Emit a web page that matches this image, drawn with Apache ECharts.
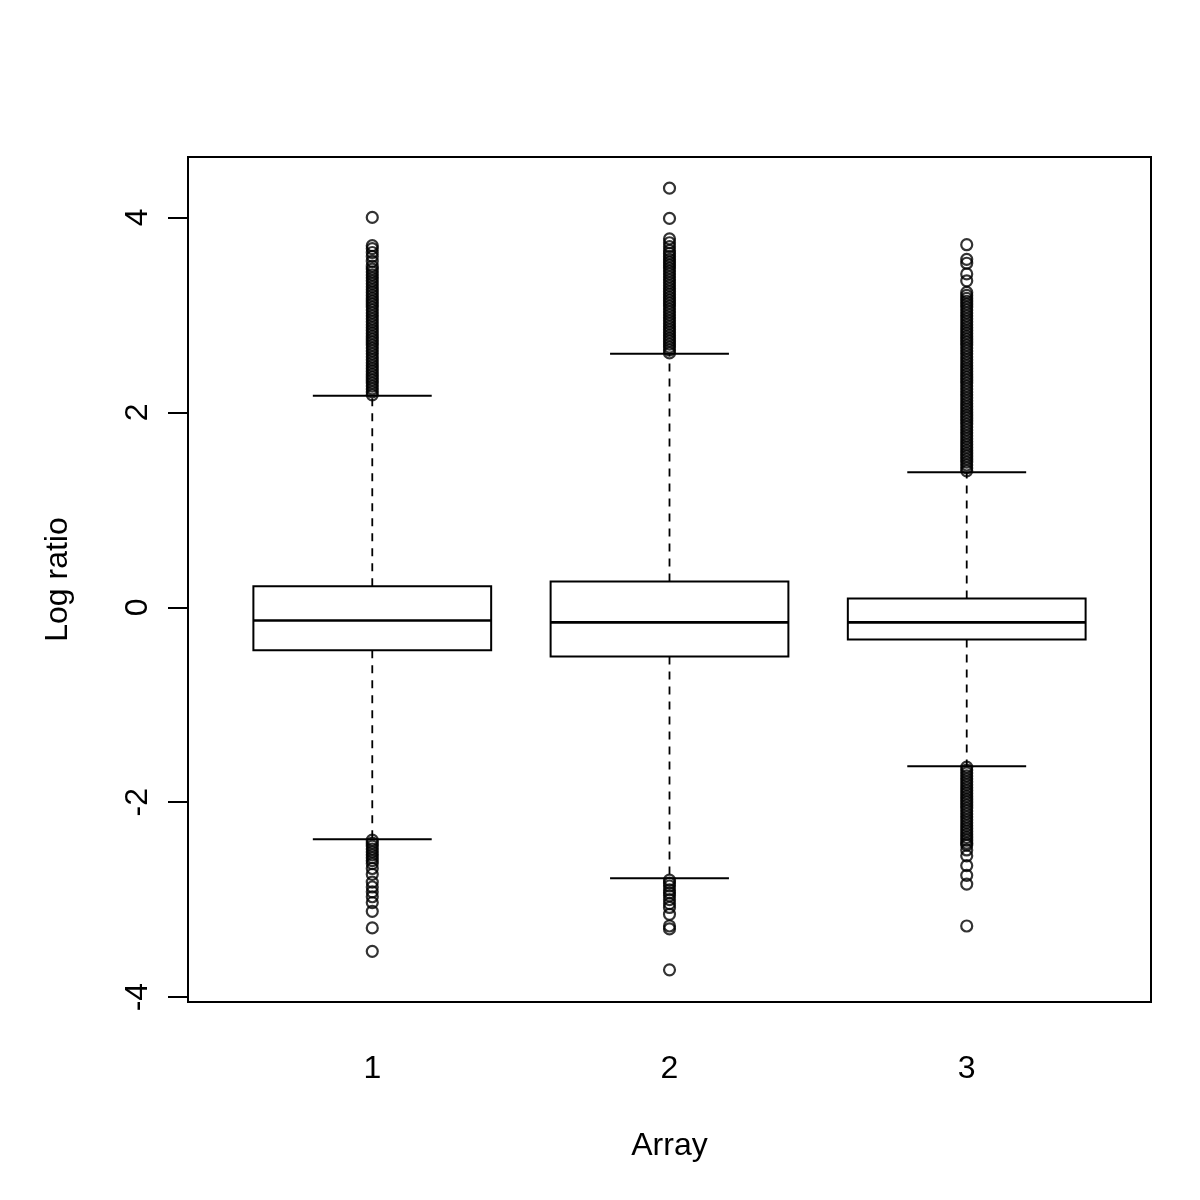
<!DOCTYPE html>
<html>
<head>
<meta charset="utf-8">
<script src="https://cdn.jsdelivr.net/npm/echarts@6/dist/echarts.min.js"></script>
<style>html,body{margin:0;padding:0;background:#fff;}#c{width:1200px;height:1200px;}</style>
</head>
<body>
<div id="c"></div>
<script>
const categories = ['1', '2', '3'];
const yTicks = [-4, -2, 0, 2, 4];
// [whiskerLow, Q1, median, Q3, whiskerHigh]
const box1 = [-2.38, -0.44, -0.135, 0.215, 2.17];
const box2 = [-2.78, -0.505, -0.155, 0.265, 2.6];
const box3 = [-1.63, -0.33, -0.155, 0.09, 1.385];

const out1Hi = [2.18,2.21,2.24,2.27,2.3,2.33,2.36,2.39,2.42,2.45,2.48,2.51,2.54,2.57,2.6,2.63,2.66,2.69,2.72,2.75,2.78,2.81,2.84,2.87,2.9,2.93,2.96,2.99,3.02,3.05,3.08,3.11,3.14,3.17,3.2,3.23,3.26,3.29,3.32,3.35,3.38,3.41,3.44,3.47,3.5,3.55,3.6,3.64,3.68,3.71,4.0];
const out1Lo = [-2.39,-2.42,-2.45,-2.48,-2.51,-2.54,-2.57,-2.6,-2.63,-2.68,-2.74,-2.82,-2.87,-2.92,-2.97,-3.03,-3.12,-3.29,-3.53];
const out2Hi = [2.61,2.64,2.67,2.7,2.73,2.76,2.79,2.82,2.85,2.88,2.91,2.94,2.97,3.0,3.03,3.06,3.09,3.12,3.15,3.18,3.21,3.24,3.27,3.3,3.33,3.36,3.39,3.42,3.45,3.48,3.51,3.54,3.57,3.6,3.63,3.66,3.7,3.74,3.78,3.99,4.3];
const out2Lo = [-2.8,-2.83,-2.86,-2.9,-2.93,-2.96,-3.0,-3.04,-3.08,-3.15,-3.27,-3.3,-3.72];
const out3Hi = [1.4,1.43,1.46,1.49,1.52,1.55,1.58,1.61,1.64,1.67,1.7,1.73,1.76,1.79,1.82,1.85,1.88,1.91,1.94,1.97,2.0,2.03,2.06,2.09,2.12,2.15,2.18,2.21,2.24,2.27,2.3,2.33,2.36,2.39,2.42,2.45,2.48,2.51,2.54,2.57,2.6,2.63,2.66,2.69,2.72,2.75,2.78,2.81,2.84,2.87,2.9,2.93,2.96,2.99,3.02,3.05,3.08,3.11,3.14,3.17,3.2,3.23,3.35,3.42,3.53,3.57,3.72];
const out3Lo = [-1.64,-1.67,-1.7,-1.73,-1.76,-1.79,-1.82,-1.85,-1.88,-1.91,-1.94,-1.97,-2.0,-2.03,-2.06,-2.09,-2.12,-2.15,-2.18,-2.21,-2.24,-2.27,-2.3,-2.33,-2.36,-2.39,-2.42,-2.44,-2.49,-2.55,-2.65,-2.75,-2.84,-3.27];

const boxes = [box1, box2, box3];
const outliers = [out1Hi.concat(out1Lo), out2Hi.concat(out2Lo), out3Hi.concat(out3Lo)];

const boxData = boxes.map((b, i) => [i + 1].concat(b));
const outData = [];
outliers.forEach((arr, i) => arr.forEach(v => outData.push([i + 1, v])));

const FONT = "'Liberation Sans', Arial, Helvetica, sans-serif";
const chart = echarts.init(document.getElementById('c'), null, {renderer: 'canvas'});

function renderBox(params, api) {
  const x = api.value(0);
  const lo = api.value(1), q1 = api.value(2), med = api.value(3), q3 = api.value(4), hi = api.value(5);
  const halfBox = 0.4, halfCap = 0.2;
  const p = (xx, yy) => api.coord([xx, yy]);
  const pLoL = p(x - halfCap, lo), pLoR = p(x + halfCap, lo);
  const pHiL = p(x - halfCap, hi), pHiR = p(x + halfCap, hi);
  const bTL = p(x - halfBox, q3), bBR = p(x + halfBox, q1);
  const mL = p(x - halfBox, med), mR = p(x + halfBox, med);
  const c = p(x, 0);
  const pq1 = p(x, q1), pq3 = p(x, q3), plo = p(x, lo), phi = p(x, hi);
  const blk = '#000';
  return {
    type: 'group',
    children: [
      {type: 'line', shape: {x1: c[0], y1: pq3[1], x2: c[0], y2: phi[1]}, style: {stroke: blk, lineWidth: 1.8, lineDash: [8, 7]}},
      {type: 'line', shape: {x1: c[0], y1: pq1[1], x2: c[0], y2: plo[1]}, style: {stroke: blk, lineWidth: 1.8, lineDash: [8, 7]}},
      {type: 'line', shape: {x1: pHiL[0], y1: pHiL[1], x2: pHiR[0], y2: pHiR[1]}, style: {stroke: blk, lineWidth: 2}},
      {type: 'line', shape: {x1: pLoL[0], y1: pLoL[1], x2: pLoR[0], y2: pLoR[1]}, style: {stroke: blk, lineWidth: 2}},
      {type: 'rect', shape: {x: bTL[0], y: bTL[1], width: bBR[0] - bTL[0], height: bBR[1] - bTL[1]}, style: {fill: '#fff', stroke: blk, lineWidth: 2}},
      {type: 'line', shape: {x1: mL[0], y1: mL[1], x2: mR[0], y2: mR[1]}, style: {stroke: blk, lineWidth: 2.6}}
    ]
  };
}

chart.setOption({
  animation: false,
  backgroundColor: '#fff',
  grid: {left: 188, right: 49, top: 157, bottom: 198, show: true, borderColor: '#000', borderWidth: 2, backgroundColor: 'transparent'},
  xAxis: {
    type: 'value', min: 0.38, max: 3.62,
    name: 'Array', nameLocation: 'middle', nameGap: 128,
    nameTextStyle: {fontFamily: FONT, fontSize: 32, color: '#000'},
    axisLine: {show: false},
    splitLine: {show: false},
    axisTick: {show: true, inside: false, length: 20, customValues: [1, 2, 3], lineStyle: {color: '#000', width: 2}},
    axisLabel: {customValues: [1, 2, 3], formatter: v => categories[Math.round(v) - 1], fontFamily: FONT, fontSize: 32, color: '#000', margin: 51}
  },
  yAxis: {
    type: 'value', min: -4.05, max: 4.62,
    name: 'Log ratio', nameLocation: 'middle', nameGap: 114, nameRotate: 90,
    nameTextStyle: {fontFamily: FONT, fontSize: 32, color: '#000'},
    axisLine: {show: false},
    splitLine: {show: false},
    axisTick: {show: true, inside: false, length: 20, customValues: yTicks, lineStyle: {color: '#000', width: 2}},
    axisLabel: {customValues: yTicks, rotate: 90, fontFamily: FONT, fontSize: 32, color: '#000', margin: 34}
  },
  series: [
    {type: 'custom', renderItem: renderBox, data: boxData, encode: {x: 0, y: [1, 2, 3, 4, 5]}, z: 2},
    {type: 'scatter', data: outData, symbol: 'circle', symbolSize: 11,
     itemStyle: {color: 'rgba(255,255,255,0)', borderColor: '#000', borderWidth: 2.2}, z: 3}
  ]
});
</script>
</body>
</html>
